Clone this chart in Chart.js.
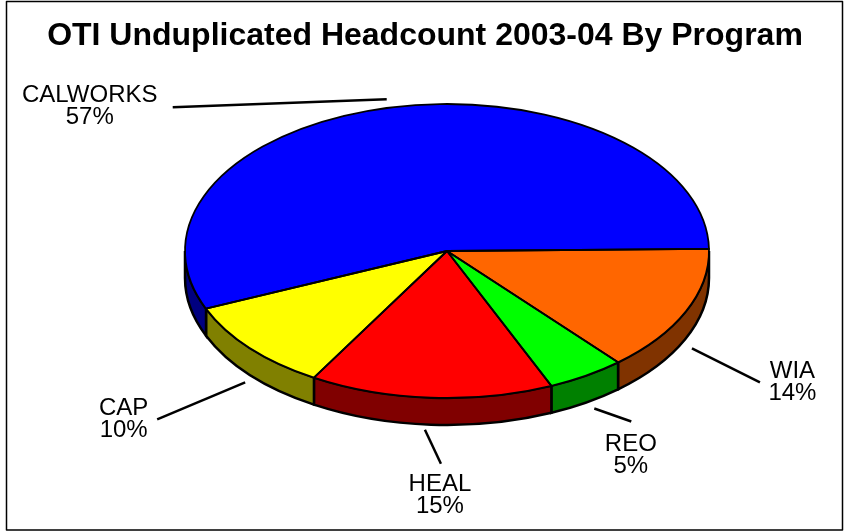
<!DOCTYPE html>
<html>
<head>
<meta charset="utf-8">
<title>OTI Unduplicated Headcount 2003-04 By Program</title>
<script src="https://cdn.jsdelivr.net/npm/chart.js@4"></script>
<style>
  html, body { margin: 0; padding: 0; background: #fff; }
  canvas { display: block; }
</style>
</head>
<body>
<canvas id="myChart" width="844" height="531"></canvas>
<script>
// Data, clockwise from the 3 o'clock position
const categories = ['WIA', 'REO', 'HEAL', 'CAP', 'CALWORKS'];
const shares = [13.9, 4.8, 15, 10.1, 56.2];
const shareLabels = ['14%', '5%', '15%', '10%', '57%'];
const topColors = ['#ff6600', '#00ff00', '#ff0000', '#ffff00', '#0000ff'];
const sideColors = ['#803300', '#008000', '#800000', '#808000', '#000080'];

// Layout of the tilted pie
const centerX = 447;
const centerY = 251;
const radiusX = 262;
const squash = 147 / 262;
const depth = 27;

// Label and leader line offsets, measured from the rim point of each slice
const labelOffsets = [[106.5, 42.6], [44.5, 51], [9, 69.5], [-126.5, 43], [-303, -2]];
const leaderOffsets = [
    [6, 10, 74, 44],
    [8, 6, 45, 19],
    [-6, 5, 10, 39],
    [-5, 7.4, -93, 44.4],
    [-6, -8, -220, 0]
];

const tiltedPie = {
    id: 'tiltedPie',
    beforeDatasetsDraw(chart) {
        const ctx = chart.ctx;
        const arcs = chart.getDatasetMeta(0).data;

        // side walls, only the front half of the pie shows them
        arcs.forEach((arc, i) => {
            const from = Math.max(arc.startAngle, 0);
            const to = Math.min(arc.endAngle, Math.PI);
            if (from >= to) return;
            ctx.beginPath();
            ctx.ellipse(centerX, centerY, radiusX, radiusX * squash, 0, from, to);
            ctx.ellipse(centerX, centerY + depth, radiusX, radiusX * squash, 0, to, from, true);
            ctx.closePath();
            ctx.fillStyle = sideColors[i];
            ctx.fill();
            ctx.lineWidth = 2.5;
            ctx.strokeStyle = '#000';
            ctx.stroke();
        });

        // the library draws the slices, squashed into an ellipse
        const first = arcs[0];
        ctx.save();
        ctx.translate(centerX, centerY);
        ctx.scale(1, squash);
        ctx.translate(-first.x, -first.y);
    },
    afterDatasetsDraw(chart) {
        const ctx = chart.ctx;
        ctx.restore();
        const arcs = chart.getDatasetMeta(0).data;

        // slice outlines, stroked outside the squash so the width stays even
        arcs.forEach(arc => {
            ctx.beginPath();
            ctx.moveTo(centerX, centerY);
            ctx.ellipse(centerX, centerY, radiusX, radiusX * squash, 0, arc.startAngle, arc.endAngle);
            ctx.closePath();
            ctx.lineWidth = 1.8;
            ctx.lineJoin = 'round';
            ctx.strokeStyle = '#000';
            ctx.stroke();
        });

        // leader lines and labels
        arcs.forEach((arc, i) => {
            const mid = (arc.startAngle + arc.endAngle) / 2;
            const rimX = centerX + radiusX * Math.cos(mid);
            const rimY = centerY + radiusX * squash * Math.sin(mid) + (Math.sin(mid) > 0 ? depth : 0);
            const line = leaderOffsets[i];
            ctx.beginPath();
            ctx.moveTo(rimX + line[0], rimY + line[1]);
            ctx.lineTo(rimX + line[2], rimY + line[3]);
            ctx.lineWidth = 2.5;
            ctx.strokeStyle = '#000';
            ctx.stroke();

            const labelX = rimX + labelOffsets[i][0];
            const labelY = rimY + labelOffsets[i][1];
            ctx.fillStyle = '#000';
            ctx.font = '24px "Liberation Sans", Arial, sans-serif';
            ctx.textAlign = 'center';
            ctx.textBaseline = 'middle';
            ctx.fillText(categories[i], labelX, labelY - 9.5);
            ctx.fillText(shareLabels[i], labelX, labelY + 12.5);
        });

        // outer frame
        ctx.lineWidth = 1.5;
        ctx.strokeStyle = '#000';
        ctx.strokeRect(6.5, 1.5, 836, 528.5);
    }
};

const ctx = document.getElementById('myChart').getContext('2d');
const myChart = new Chart(ctx, {
    type: 'pie',
    data: {
        labels: categories,
        datasets: [{
            data: shares,
            backgroundColor: topColors,
            borderWidth: 0,
            clip: false
        }]
    },
    options: {
        responsive: false,
        animation: false,
        events: [],
        radius: radiusX,
        rotation: 89.2,
        layout: { padding: { left: 6 } },
        plugins: {
            legend: { display: false },
            tooltip: { enabled: false },
            title: {
                display: true,
                text: 'OTI Unduplicated Headcount 2003-04 By Program',
                color: '#000',
                font: { family: '"Liberation Sans", Arial, sans-serif', size: 32, weight: 'bold' },
                padding: { top: 17, bottom: 10 }
            }
        }
    },
    plugins: [tiltedPie]
});
</script>
</body>
</html>
